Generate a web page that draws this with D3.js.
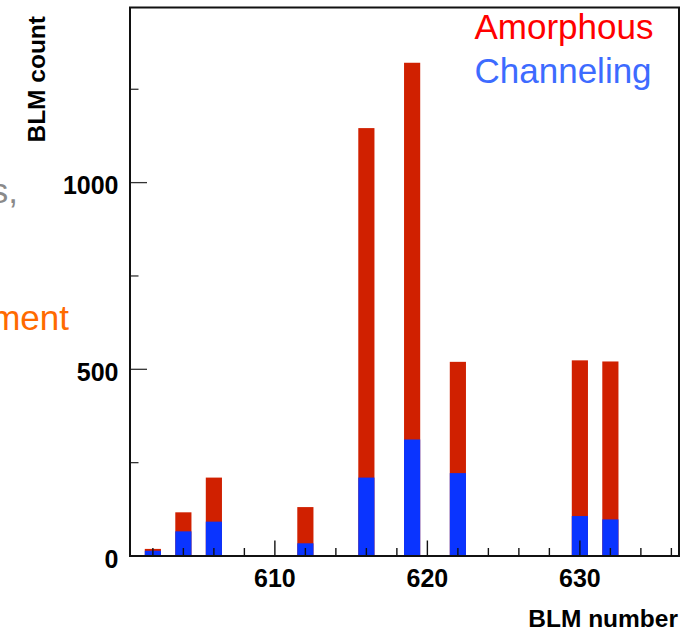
<!DOCTYPE html>
<html>
<head>
<meta charset="utf-8">
<script src="https://cdn.jsdelivr.net/npm/d3@7"></script>
<style>
  html, body { margin: 0; padding: 0; background: #fff; }
  svg { display: block; }
  text { font-family: "Liberation Sans", Arial, Helvetica, sans-serif; }
</style>
</head>
<body>
<svg id="chart" width="698" height="632"></svg>
<script>
// ---- data ----
const blmNumbers = [602, 604, 606, 612, 616, 619, 622, 630, 632];
const amorphous  = [19, 117, 210, 131, 1146, 1321, 520, 524, 521];
const channeling = [14, 66, 92, 34, 210, 312, 222, 107, 98];
const xTickLabels = [610, 620, 630];
const yTickLabels = [0, 500, 1000];
const legendLabels = ["Amorphous", "Channeling"];

// ---- layout ----
const svg = d3.select("#chart");
const plotLeft = 130, plotRight = 679, plotTop = 7.5, plotBottom = 556;
const x = d3.scaleLinear().domain([600.5, 636.5]).range([plotLeft, plotRight]);
const y = d3.scaleLinear().domain([0, 1469]).range([plotBottom, plotTop]);
const barW = 1.06;

// slide fragments at the left edge
svg.append("text").attr("x", 18).attr("y", 202.5).attr("text-anchor", "end")
  .attr("font-size", 35).attr("fill", "#8a8a8a").text("s,");
svg.append("text").attr("x", 69).attr("y", 330).attr("text-anchor", "end")
  .attr("font-size", 35).attr("fill", "#ff6a00").text("ment");

// bars: amorphous (red) behind, channeling (blue) in front
const redColor = "#d02000", blueColor = "#0a34ff";
svg.append("g").selectAll("rect").data(blmNumbers).join("rect")
  .attr("x", (d) => x(d - barW / 2))
  .attr("width", (d) => x(d + barW / 2) - x(d - barW / 2))
  .attr("y", (d, i) => y(amorphous[i]))
  .attr("height", (d, i) => y(0) - y(amorphous[i]))
  .attr("fill", redColor);
svg.append("g").selectAll("rect").data(blmNumbers).join("rect")
  .attr("x", (d) => x(d - barW / 2))
  .attr("width", (d) => x(d + barW / 2) - x(d - barW / 2))
  .attr("y", (d, i) => y(channeling[i]))
  .attr("height", (d, i) => y(0) - y(channeling[i]))
  .attr("fill", blueColor);

// ticks
const tickColor = "#111";
const xMinor = d3.range(602, 637, 2);
svg.append("g").selectAll("line").data(xMinor).join("line")
  .attr("x1", d => x(d)).attr("x2", d => x(d))
  .attr("y1", plotBottom).attr("y2", d => plotBottom - (d % 10 === 0 ? 15.5 : 8))
  .attr("stroke", tickColor).attr("stroke-width", 1.4);
const yMinor = d3.range(0, 1251, 250);
svg.append("g").selectAll("line").data(yMinor).join("line")
  .attr("y1", d => y(d)).attr("y2", d => y(d))
  .attr("x1", plotLeft).attr("x2", d => plotLeft + (d % 500 === 0 ? 17 : 8.5))
  .attr("stroke", "#333").attr("stroke-width", 1.3);

// frame
svg.append("rect").attr("x", plotLeft).attr("y", plotTop)
  .attr("width", plotRight - plotLeft).attr("height", plotBottom - plotTop)
  .attr("fill", "none").attr("stroke", "#111").attr("stroke-width", 2);

// tick labels
svg.append("g").selectAll("text").data(yTickLabels).join("text")
  .attr("x", 118.5).attr("y", d => y(d) + 11.5)
  .attr("text-anchor", "end").attr("font-size", 25).attr("font-weight", "bold")
  .attr("fill", "#000").text(d => d);
svg.append("g").selectAll("text").data(xTickLabels).join("text")
  .attr("x", d => x(d)).attr("y", 587)
  .attr("text-anchor", "middle").attr("font-size", 25).attr("font-weight", "bold")
  .attr("fill", "#000").text(d => d);

// axis titles
svg.append("text").attr("x", 678).attr("y", 627)
  .attr("text-anchor", "end").attr("font-size", 24.5).attr("font-weight", "bold")
  .text("BLM number");
svg.append("text").attr("transform", "translate(45,16) rotate(-90)")
  .attr("text-anchor", "end").attr("font-size", 24.5).attr("font-weight", "bold")
  .text("BLM count");

// legend
const legendColors = ["#ff0000", "#3d6bff"];
svg.append("g").selectAll("text").data(legendLabels).join("text")
  .attr("x", 474.5).attr("y", (d, i) => 39 + i * 43.5)
  .attr("font-size", 35).attr("fill", (d, i) => legendColors[i])
  .text(d => d);
</script>
</body>
</html>
